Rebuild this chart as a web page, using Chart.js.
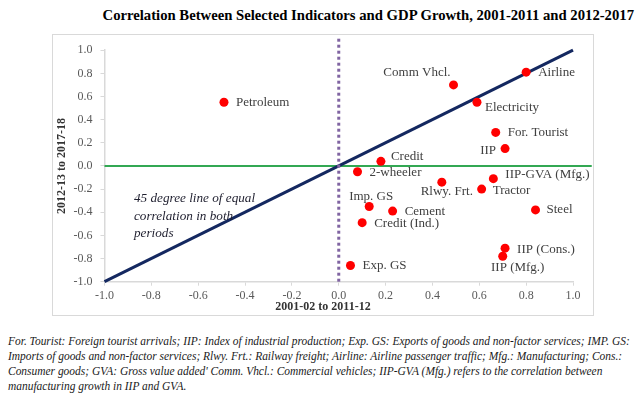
<!DOCTYPE html>
<html>
<head>
<meta charset="utf-8">
<script src="https://cdn.jsdelivr.net/npm/chart.js@4/dist/chart.umd.min.js"></script>
<style>
  body { margin: 0; width: 638px; height: 396px; background: #fff; position: relative; overflow: hidden; font-family: "Liberation Serif", serif; }
  #title { position: absolute; top: 6px; right: 4px; font-weight: bold; font-size: 14.7px; line-height: 18px; color: #000; white-space: nowrap; }
  #box { position: absolute; left: 52px; top: 34px; width: 542px; height: 282px; border: 1px solid #d9d9d9; box-sizing: border-box; }
  #xtitle { position: absolute; left: 223px; width: 200px; top: 299px; text-align: center; font-weight: bold; font-size: 12px; line-height: 15px; color: #333; }
  #note45 { position: absolute; left: 134px; top: 189px; font-style: italic; font-size: 13.2px; line-height: 17.5px; color: #1f1f2f; white-space: nowrap; }
  #foot { position: absolute; left: 8px; top: 334px; font-style: italic; font-size: 11.45px; line-height: 15px; color: #1a1a1a; white-space: nowrap; }
</style>
</head>
<body>
<div id="title">Correlation Between Selected Indicators and GDP Growth, 2001-2011 and 2012-2017</div>
<div id="box"><canvas id="chart"></canvas></div>
<div id="xtitle">2001-02 to 2011-12</div>
<div id="note45">45 degree line of equal<br>correlation in both<br>periods</div>
<div id="foot">For. Tourist: Foreign tourist arrivals; IIP: Index of industrial production; Exp. GS: Exports of goods and non-factor services; IMP. GS:<br>Imports of goods and non-factor services; Rlwy. Frt.: Railway freight; Airline: Airline passenger traffic; Mfg.: Manufacturing; Cons.:<br>Consumer goods; GVA: Gross value added' Comm. Vhcl.: Commercial vehicles; IIP-GVA (Mfg.) refers to the correlation between<br>manufacturing growth in IIP and GVA.</div>
<script>
const indicators = ['Petroleum', 'Comm Vhcl.', 'Airline', 'Electricity', 'For. Tourist', 'IIP', 'Credit', '2-wheeler',
    'IIP-GVA (Mfg.)', 'Rlwy. Frt.', 'Tractor', 'Imp. GS', 'Cement', 'Steel', 'Credit (Ind.)', 'IIP (Cons.)', 'IIP (Mfg.)', 'Exp. GS'];
const corr0111 = [-0.49, 0.49, 0.80, 0.59, 0.67, 0.71, 0.18, 0.08, 0.66, 0.44, 0.61, 0.13, 0.23, 0.84, 0.10, 0.71, 0.70, 0.05];
const corr1217 = [0.55, 0.70, 0.81, 0.55, 0.29, 0.15, 0.04, -0.05, -0.11, -0.14, -0.20, -0.35, -0.39, -0.38, -0.49, -0.71, -0.78, -0.86];

// reference lines
const diagX = [-1, 1], diagY = [-1, 1];
const zeroX = [-1, 1.08], zeroY = [0, 0];
const vertX = [0, 0], vertY = [-1, 1.1];

// label placement next to each dot: [dx, dy, align]
const labelOffsets = [
    [12, 0, 'left'], [-3, -12, 'right'], [12, 0, 'left'], [8, 5, 'left'], [12, 0, 'left'], [-9, 2, 'right'],
    [10, -5, 'left'], [12, 1, 'left'], [12, -4, 'left'], [5, 9, 'center'], [11, 1, 'left'], [2, -10, 'center'],
    [12, 0, 'left'], [11, 0, 'left'], [12, 1, 'left'], [12, 1, 'left'], [15, 11, 'center'], [12, 0, 'left']
];

const toPts = (xs, ys) => xs.map((x, i) => ({ x, y: ys[i] }));

const pointLabels = {
    id: 'pointLabels',
    afterDatasetsDraw(chart) {
        const ctx = chart.ctx;
        const sx = chart.scales.x, sy = chart.scales.y;
        ctx.save();
        ctx.font = '13px "Liberation Serif", serif';
        ctx.fillStyle = '#404040';
        ctx.textBaseline = 'middle';
        indicators.forEach((name, i) => {
            const [dx, dy, align] = labelOffsets[i];
            ctx.textAlign = align;
            ctx.fillText(name, sx.getPixelForValue(corr0111[i]) + dx, sy.getPixelForValue(corr1217[i]) + dy);
        });
        ctx.restore();
    }
};

const fmt = v => Math.abs(v) < 1e-9 ? '0.0' : v.toFixed(1);

new Chart(document.getElementById('chart'), {
    type: 'scatter',
    data: {
        datasets: [
            {
                data: toPts(corr0111, corr1217),
                backgroundColor: '#ff0000',
                borderWidth: 0,
                pointRadius: 4.5,
                order: 0
            },
            {
                data: toPts(vertX, vertY),
                showLine: true,
                borderColor: '#8064a2',
                borderWidth: 3,
                borderDash: [3, 3],
                pointRadius: 0,
                clip: false,
                order: 1
            },
            {
                data: toPts(diagX, diagY),
                showLine: true,
                borderColor: '#142860',
                borderWidth: 3,
                pointRadius: 0,
                clip: false,
                order: 2
            },
            {
                data: toPts(zeroX, zeroY),
                showLine: true,
                borderColor: '#33a853',
                borderWidth: 2,
                pointRadius: 0,
                clip: false,
                order: 3
            }
        ]
    },
    options: {
        responsive: true,
        maintainAspectRatio: false,
        animation: false,
        layout: { padding: { left: 0, top: 13, right: 20, bottom: 0 }, autoPadding: false },
        plugins: { legend: { display: false }, tooltip: { enabled: false } },
        scales: {
            x: {
                min: -1, max: 1,
                afterFit: s => { s.height = 33.3; },
                border: { color: '#d9d9d9', width: 1.5 },
                grid: { drawOnChartArea: false, color: '#d9d9d9', tickLength: 4 },
                ticks: { stepSize: 0.2, padding: 3, color: '#595959', font: { family: '"Liberation Serif", serif', size: 12 }, callback: fmt }
            },
            y: {
                min: -1, max: 1,
                afterFit: s => { s.width = 51.5; },
                border: { color: '#d9d9d9', width: 1.5 },
                grid: { drawOnChartArea: false, color: '#d9d9d9', tickLength: 4 },
                ticks: { stepSize: 0.2, padding: 8, color: '#595959', font: { family: '"Liberation Serif", serif', size: 12 }, callback: fmt },
                title: { display: true, text: '2012-13 to 2017-18', color: '#333', padding: { top: 2, bottom: 0 }, font: { family: '"Liberation Serif", serif', size: 12, weight: 'bold' } }
            }
        }
    },
    plugins: [pointLabels]
});
</script>
</body>
</html>
